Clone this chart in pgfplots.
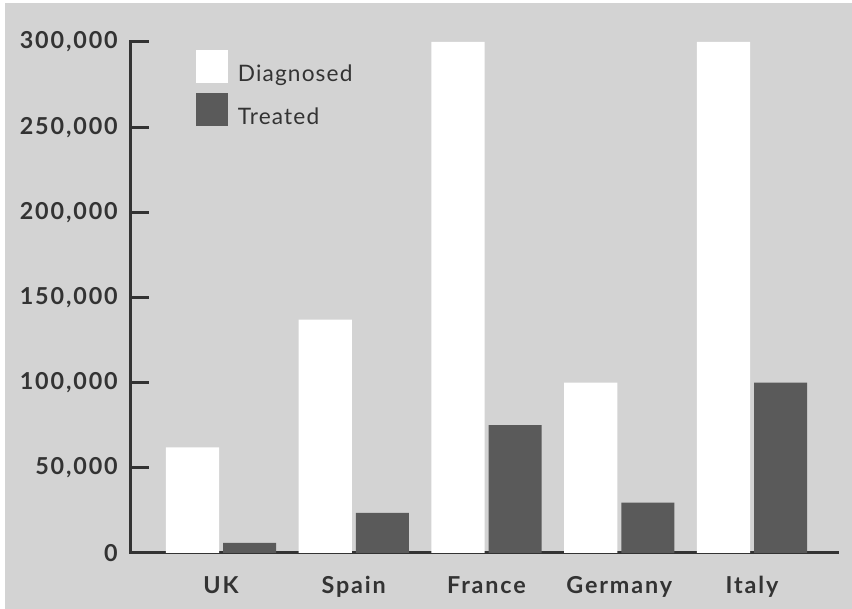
\documentclass[border=0pt]{standalone}
\usepackage{pgfplots}
\pgfplotsset{compat=1.18}
\usepackage{fontspec}
\setmainfont{Lato}
\newfontfamily\tickfont{Lato}[LetterSpace=8]
\newfontfamily\legfont{Lato}[LetterSpace=5]
\definecolor{bg}{HTML}{D3D3D3}
\definecolor{dark}{HTML}{5A5A5A}
\definecolor{txt}{HTML}{333333}
\pgfplotstableread{
x diag treat
0 62000 6000
1 137000 23500
2 300000 75000
3 100000 29500
4 300000 100000
}\datatable
\begin{document}
\begin{tikzpicture}[x=1pt,y=1pt]
\fill[white] (-98.25,-42) rectangle (540.75,414.75);
\fill[bg] (-94.5,-42) rectangle (540.75,412.5);
\begin{axis}[
  at={(0,0)}, anchor=south west,
  scale only axis,
  width=529.5pt, height=383.25pt,
  xmin=-0.678, xmax=4.64,
  ymin=0, ymax=300000,
  axis lines*=left,
  axis line style={txt, line width=2.25pt, line cap=rect},
  ytick={0,50000,...,300000},
  xtick=data,
  xticklabels={UK,Spain,France,Germany,Italy},
  scaled y ticks=false,
  /pgf/number format/.cd, fixed, 1000 sep={,}, assume math mode=true,
  /pgfplots/.cd,
  tick style={txt, line width=2.25pt},
  ytick style={line cap=butt},
  y tick label style={font=\fontsize{17.5}{17.5}\tickfont\bfseries, text=txt, inner sep=0pt, anchor=east, xshift=-9.75pt},
  x tick label style={font=\fontsize{17.5}{17.5}\tickfont\bfseries, text=txt, inner sep=0pt, anchor=base, yshift=-16.5pt},
  major tick length=13.5pt,
  tick align=inside,
  xtick style={draw=none},
  ybar, bar width=0.4,
  legend style={at={(0.092,0.984)}, anchor=north west, draw=none, fill=none,
    inner sep=0pt, outer sep=0pt, row sep=7.2pt, column sep=7.5pt,
    font=\fontsize{17}{17}\legfont, text=txt,
    nodes={inner sep=0pt}},
  legend cell align=left,
  legend image code/.code={\fill[#1] (0pt,-6.75pt) rectangle (24pt,18pt);},
]
\addplot[fill=white, draw=none, bar shift=-0.215] table[x=x, y=diag] {\datatable};
\addplot[fill=dark, draw=none, bar shift=0.215] table[x=x, y=treat] {\datatable};
\legend{Diagnosed, Treated}
\draw[txt, line width=2.25pt] (rel axis cs:1,0) -- ++(0,10pt);
\end{axis}
\pgfresetboundingbox
\path[use as bounding box] (-98.25,-42) rectangle (540.75,414.75);
\end{tikzpicture}
\end{document}
